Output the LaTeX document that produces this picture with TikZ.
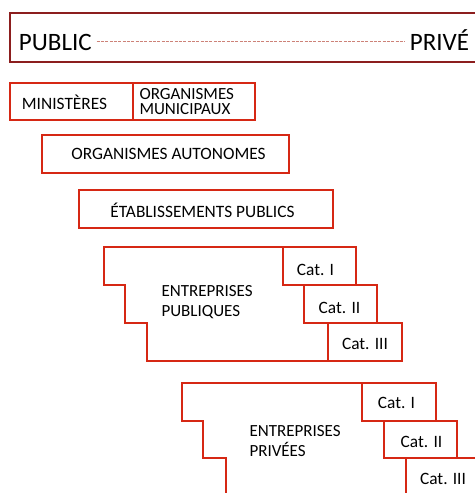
\documentclass[tikz,border=0pt]{standalone}
\usepackage{fontspec}
\setmainfont{Carlito}
\definecolor{bordeaux}{RGB}{140,30,30}
\definecolor{rouge}{RGB}{214,40,20}
\definecolor{rosepale}{RGB}{205,130,120}
\tikzset{every picture/.style={line width=0.75pt}}
\tikzset{
  cadre/.style={draw=bordeaux, line width=1.8},
  boite/.style={draw=rouge, line width=1.8},
  tirets/.style={draw=rosepale, line width=0.75, dash pattern={on 2.25pt off 1pt}},
  titre/.style={font=\fontsize{18.75}{20}\selectfont},
  etiq/.style={font=\fontsize{13}{14}\selectfont, inner sep=0pt},
  petit/.style={font=\fontsize{12.75}{11.5}\selectfont, inner sep=0pt, align=left},
  bloc/.style={font=\fontsize{12.75}{14.5}\selectfont, inner sep=0pt, align=left}
}

\begin{document}
\begin{tikzpicture}[x=0.75pt,y=0.75pt,yscale=-1,xscale=1]
        \useasboundingbox (0,0) rectangle (475,493);
        \clip (0,0) rectangle (475,493);

        %Shape: Rectangle [public - prive]
        \draw [cadre] (10,13) rectangle (485,62) ;
        \node [titre, anchor=base west] (public) at (14,50) {PUBLIC};
        \node [titre, anchor=base east] (prive) at (474,50) {PRIVÉ};
        %Straight Lines [continuum]
        \draw [tirets] (public.east) -- (public.east -| prive.west) ;

        %Shape: Rectangle [ministeres]
        \draw [boite] (10,83) rectangle (133,120) ;
        \node [etiq] (min) at (64.5,102) {MINISTÈRES};
        %Shape: Rectangle [organismes municipaux]
        \draw [boite] (133,83) rectangle (255,120) ;
        \node [petit, anchor=west] (orgmun) at (139,101.5) {ORGANISMES\\MUNICIPAUX};

        %Shape: Rectangle [organismes autonomes]
        \draw [boite] (42,135) rectangle (289,173) ;
        \node [etiq] (orgaut) at (168.5,154) {ORGANISMES AUTONOMES};

        %Shape: Rectangle [etablissements publics]
        \draw [boite] (79,190) rectangle (333,228) ;
        \node [etiq] (etab) at (202.5,210) {ÉTABLISSEMENTS PUBLICS};

        %Shape: Polygon [entreprises publiques]
        \draw [boite] (283,247) -- (104,247) -- (104,285) -- (125,285) -- (125,323) -- (147,323) -- (147,361) -- (328,361) ;
        \node [bloc, anchor=west] (entpub) at (161,302) {ENTREPRISES\\PUBLIQUES};
        %Shape: Rectangle [cat I]
        \draw [boite] (283,247) rectangle (356,285) ;
        \node [etiq] (pubcat1) at (315.5,270) {Cat. I};
        %Shape: Rectangle [cat II]
        \draw [boite] (304,285) rectangle (377,323) ;
        \node [etiq] (pubcat2) at (339.5,308) {Cat. II};
        %Shape: Rectangle [cat III]
        \draw [boite] (328,323) rectangle (402,361) ;
        \node [etiq] (pubcat3) at (365,344) {Cat. III};

        %Shape: Polygon [entreprises privees]
        \draw [boite] (362,383) -- (182,383) -- (182,421) -- (203,421) -- (203,458) -- (226,458) -- (226,500) ;
        \node [bloc, anchor=west] (entpriv) at (249,441) {ENTREPRISES\\PRIVÉES};
        %Shape: Rectangle [cat I]
        \draw [boite] (362,383) rectangle (436,421) ;
        \node [etiq] (privcat1) at (396.5,403) {Cat. I};
        %Shape: Rectangle [cat II]
        \draw [boite] (384,421) rectangle (457,458) ;
        \node [etiq] (privcat2) at (421.5,442) {Cat. II};
        %Shape: Polygon [cat III]
        \draw [boite] (406,500) -- (406,458) -- (485,458) ;
        \node [etiq] (privcat3) at (443,478.5) {Cat. III};
    \end{tikzpicture}
\end{document}
